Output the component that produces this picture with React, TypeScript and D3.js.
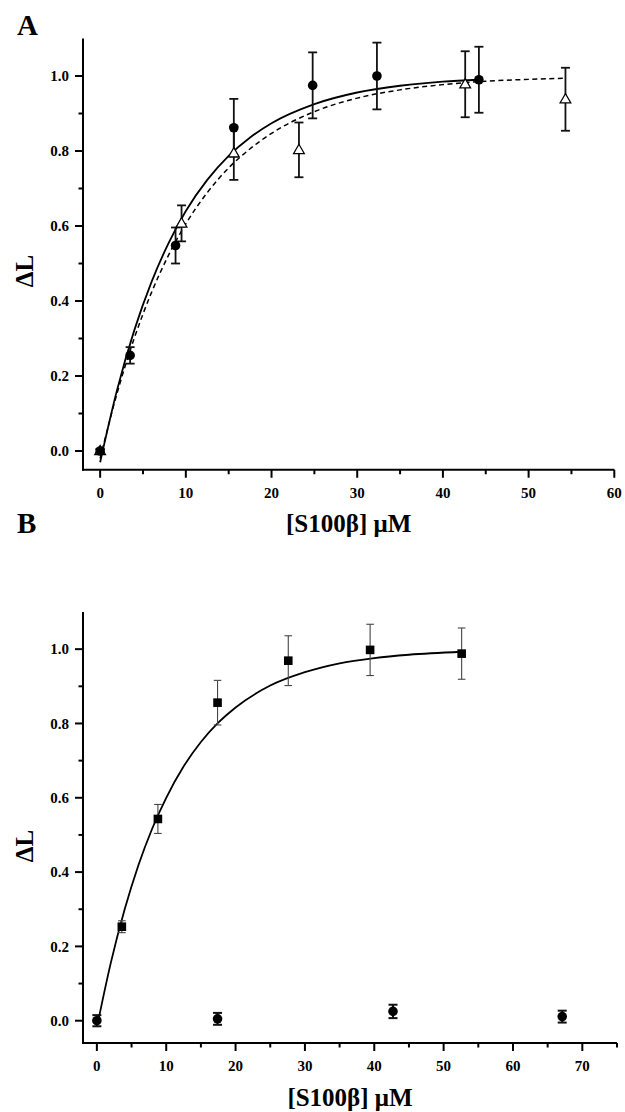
import React from "react";
import * as d3 from "d3";

// ---------- Panel A data ----------
const aCircleX = [0, 3.5, 8.8, 15.6, 24.8, 32.3, 44.2];
const aCircleY = [0.0, 0.255, 0.548, 0.862, 0.975, 1.0, 0.99];
const aCircleErr = [0.005, 0.022, 0.048, 0.077, 0.088, 0.089, 0.088];

const aTriX = [0, 9.5, 15.6, 23.2, 42.6, 54.3];
const aTriY = [0.0, 0.607, 0.794, 0.803, 0.978, 0.938];
const aTriErr = [0.005, 0.048, 0.071, 0.073, 0.088, 0.084];

// fitted curves
const aSolidFitX = [0, 2, 4, 6, 8, 10, 12.5, 15, 17.5, 20, 25, 30, 35, 40, 44.2];
const aSolidFitY = [-0.03, 0.165, 0.323, 0.451, 0.555, 0.64, 0.723, 0.787, 0.836, 0.874, 0.925, 0.956, 0.974, 0.985, 0.99];
const aDashFitX = [0, 2, 4, 6, 8, 10, 12.5, 15, 17.5, 20, 25, 30, 35, 40, 45, 50, 54.3];
const aDashFitY = [-0.02, 0.156, 0.302, 0.423, 0.523, 0.606, 0.689, 0.755, 0.806, 0.847, 0.905, 0.941, 0.963, 0.977, 0.986, 0.991, 0.994];

// ---------- Panel B data ----------
const bSquareX = [3.6, 8.8, 17.4, 27.6, 39.4, 52.6];
const bSquareY = [0.253, 0.543, 0.856, 0.969, 0.998, 0.988];
const bSquareErr = [0.016, 0.039, 0.06, 0.067, 0.069, 0.069];

const bCircleX = [0, 17.4, 42.7, 67.1];
const bCircleY = [0.0, 0.005, 0.025, 0.011];
const bCircleErr = [0.015, 0.016, 0.018, 0.016];

const bFitX = [0.2, 2, 4, 6, 8, 10, 12.5, 15, 17.5, 20, 25, 30, 35, 40, 45, 52.6];
const bFitY = [0.0, 0.155, 0.299, 0.419, 0.518, 0.6, 0.684, 0.75, 0.802, 0.843, 0.902, 0.938, 0.962, 0.976, 0.985, 0.993];

// ---------- ticks ----------
const yTickLabels = [0.0, 0.2, 0.4, 0.6, 0.8, 1.0];
const yMinorTicks = [0.1, 0.3, 0.5, 0.7, 0.9];
const aXTicks = [0, 10, 20, 30, 40, 50, 60];
const aXMinor = [5, 15, 25, 35, 45, 55];
const bXTicks = [0, 10, 20, 30, 40, 50, 60, 70];
const bXMinor = [5, 15, 25, 35, 45, 55, 65, 75];

const FONT = "'Liberation Serif', 'Times New Roman', serif";

type PanelProps = {
  x: d3.ScaleLinear<number, number>;
  y: d3.ScaleLinear<number, number>;
  xTicks: number[];
  xMinor: number[];
  letter: string;
  letterY: number;
  titleY: number;
  deltaY: number;
  children?: React.ReactNode;
};

function Axes({ x, y, xTicks, xMinor, letter, letterY, titleY, deltaY, children }: PanelProps) {
  const [x0, x1] = x.range();
  const [y0, y1] = y.range();
  const axisX = x0;
  const axisY = y0;
  return (
    <g>
      <text x={17} y={letterY} fontFamily={FONT} fontWeight="bold" fontSize={29}>
        {letter}
      </text>
      {children}
      {/* y axis */}
      <line x1={axisX} x2={axisX} y1={y1} y2={axisY + 1} stroke="#000" strokeWidth={2} />
      {yTickLabels.map((t) => (
        <g key={"yt" + t}>
          <line x1={axisX - 8} x2={axisX} y1={y(t)} y2={y(t)} stroke="#000" strokeWidth={2} />
          <text
            x={axisX - 14}
            y={y(t)}
            dy="0.35em"
            textAnchor="end"
            fontFamily={FONT}
            fontWeight="bold"
            fontSize={15}
          >
            {d3.format(".1f")(t)}
          </text>
        </g>
      ))}
      {yMinorTicks.map((t) => (
        <line key={"ym" + t} x1={axisX - 4.5} x2={axisX} y1={y(t)} y2={y(t)} stroke="#000" strokeWidth={2} />
      ))}
      {/* x axis */}
      <line x1={axisX - 1} x2={x1} y1={axisY} y2={axisY} stroke="#000" strokeWidth={2} />
      {xTicks.map((t) => (
        <g key={"xt" + t}>
          <line x1={x(t)} x2={x(t)} y1={axisY} y2={axisY + 8} stroke="#000" strokeWidth={2} />
          <text
            x={x(t)}
            y={axisY + 28}
            textAnchor="middle"
            fontFamily={FONT}
            fontWeight="bold"
            fontSize={15}
          >
            {t}
          </text>
        </g>
      ))}
      {xMinor.map((t) => (
        <line key={"xm" + t} x1={x(t)} x2={x(t)} y1={axisY} y2={axisY + 4.5} stroke="#000" strokeWidth={2} />
      ))}
      <text
        x={(x0 + x1) / 2}
        y={titleY}
        textAnchor="middle"
        fontFamily={FONT}
        fontWeight="bold"
        fontSize={25}
      >
        [S100β] μM
      </text>
      <text
        transform={`translate(33,${deltaY}) rotate(-90)`}
        textAnchor="middle"
        fontFamily={FONT}
        fontWeight="bold"
        fontSize={25}
      >
        ΔL
      </text>
    </g>
  );
}

function ErrBars({
  xs, ys, errs, x, y, sw, cap, color,
}: {
  xs: number[]; ys: number[]; errs: number[];
  x: d3.ScaleLinear<number, number>; y: d3.ScaleLinear<number, number>;
  sw: number; cap: number; color: string;
}) {
  return (
    <g stroke={color} strokeWidth={sw} fill="none">
      {xs.map((xv, i) => {
        const cx = x(xv);
        const top = y(ys[i] + errs[i]);
        const bot = y(ys[i] - errs[i]);
        return (
          <g key={i}>
            <line x1={cx} x2={cx} y1={top} y2={bot} />
            <line x1={cx - cap} x2={cx + cap} y1={top} y2={top} />
            <line x1={cx - cap} x2={cx + cap} y1={bot} y2={bot} />
          </g>
        );
      })}
    </g>
  );
}

export default function App() {
  const xA = d3.scaleLinear().domain([-2, 60]).range([83, 614.3]);
  const yA = d3.scaleLinear().domain([-0.05, 1.1]).range([469.75, 38.5]);
  const xB = d3.scaleLinear().domain([-2, 75]).range([83, 617]);
  const yB = d3.scaleLinear().domain([-0.06, 1.1]).range([1043, 612]);

  const lineA = d3
    .line<number>()
    .x((_, i) => xA(aSolidFitX[i]))
    .y((d) => yA(d))
    .curve(d3.curveMonotoneX);
  const lineAd = d3
    .line<number>()
    .x((_, i) => xA(aDashFitX[i]))
    .y((d) => yA(d))
    .curve(d3.curveMonotoneX);
  const lineB = d3
    .line<number>()
    .x((_, i) => xB(bFitX[i]))
    .y((d) => yB(d))
    .curve(d3.curveMonotoneX);

  const tri = (cx: number, cy: number) => {
    const w = 5.4;
    const h = 9.3;
    return `M${cx},${cy - h * 0.6}L${cx + w},${cy + h * 0.4}L${cx - w},${cy + h * 0.4}Z`;
  };

  return (
    <svg
      width={625}
      height={1112}
      style={{ position: "absolute", left: 0, top: 0, background: "#fff" }}
    >
      <rect width={625} height={1112} fill="#fff" />
      <Axes x={xA} y={yA} xTicks={aXTicks} xMinor={aXMinor} letter="A" letterY={35} titleY={532} deltaY={271}>
        <path d={lineAd(aDashFitY) || ""} fill="none" stroke="#000" strokeWidth={1.5} strokeDasharray="5,3.5" />
        <path d={lineA(aSolidFitY) || ""} fill="none" stroke="#000" strokeWidth={1.8} />
        <ErrBars xs={aTriX} ys={aTriY} errs={aTriErr} x={xA} y={yA} sw={1.8} cap={4.5} color="#111" />
        <ErrBars xs={aCircleX} ys={aCircleY} errs={aCircleErr} x={xA} y={yA} sw={1.8} cap={4.5} color="#111" />
        {aTriX.map((xv, i) => (
          <path key={"tri" + i} d={tri(xA(xv), yA(aTriY[i]))} fill="#fff" stroke="#000" strokeWidth={1.2} />
        ))}
        {aCircleX.map((xv, i) => (
          <circle key={"c" + i} cx={xA(xv)} cy={yA(aCircleY[i])} r={4.8} fill="#000" />
        ))}
      </Axes>
      <Axes x={xB} y={yB} xTicks={bXTicks} xMinor={bXMinor} letter="B" letterY={533} titleY={1106} deltaY={846}>
        <path d={lineB(bFitY) || ""} fill="none" stroke="#000" strokeWidth={1.8} />
        <ErrBars xs={bSquareX} ys={bSquareY} errs={bSquareErr} x={xB} y={yB} sw={1.1} cap={3.8} color="#444" />
        <ErrBars xs={bCircleX} ys={bCircleY} errs={bCircleErr} x={xB} y={yB} sw={2} cap={4.5} color="#111" />
        {bSquareX.map((xv, i) => (
          <rect key={"s" + i} x={xB(xv) - 4.3} y={yB(bSquareY[i]) - 4.3} width={8.6} height={8.6} fill="#000" />
        ))}
        {bCircleX.map((xv, i) => (
          <circle key={"bc" + i} cx={xB(xv)} cy={yB(bCircleY[i])} r={4.8} fill="#000" />
        ))}
      </Axes>
    </svg>
  );
}
